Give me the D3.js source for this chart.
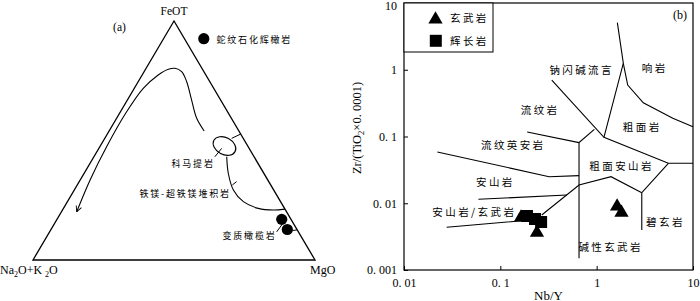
<!DOCTYPE html>
<html><head><meta charset="utf-8">
<script src="https://cdn.jsdelivr.net/npm/d3@7"></script>
<style>
body{margin:0;background:#fff}
svg{display:block}
.lat{font-family:"Liberation Serif","Times New Roman",serif;fill:#000}
.cjk{font-family:"Noto Sans CJK SC","Noto Sans",sans-serif;fill:#000}
</style></head>
<body><script>
const W = 700, H = 301;

// ---------- Panel (a): AFM-type ternary (values as fractions [FeOT, MgO]; Na2O+K2O = 1 - FeOT - MgO)
const ternCorners = [[1, 0], [0, 0], [0, 1]];             // FeOT, Na2O+K2O, MgO apexes
const trendCurve = [[0.540,0.337],[0.593,0.284],[0.669,0.228],[0.746,0.172],[0.788,0.133],
  [0.802,0.1025],[0.798,0.081],[0.774,0.057],[0.718,0.032],[0.620,0.022],[0.474,0.024],
  [0.335,0.035],[0.202,0.054]];
const komatiiteCenter = [0.477, 0.4405];
const komatiiteLink = [[0.509,0.450],[0.527,0.473]];
const komatiiteLeader = [[0.467,0.4355],[0.432,0.429]];
const cumulateCurve = [[0.432,0.471],[0.363,0.511],[0.293,0.564],[0.244,0.624],[0.216,0.691],
  [0.209,0.748],[0.213,0.787]];
const cumulateLeader = [[0.314,0.550],[0.328,0.558]];
const peridotiteLeader = [[0.118,0.805],[0.1485,0.809]];
const peridotiteLink = [[0.1234,0.858],[0.126,0.874]];
const serpentinitePts = [[0.170,0.797],[0.1276,0.838]];   // metamorphic peridotite samples

// ---------- Panel (b): Zr/TiO2 vs Nb/Y (Winchester & Floyd)
const xTickVals = [0.01, 0.1, 1, 10];
const xTickLabels = ["0. 01", "0. 1", "1", "10"];
const yTickVals = [0.001, 0.01, 0.1, 1, 10];
const yTickLabels = ["0. 001", "0. 01", "0. 1", "1", "10"];
const fieldLines = [
  [[1.64,5.07],[1.89,1.25],[1.19,0.097]],
  [[1.89,1.25],[2.10,0.59],[3.05,0.32],[6.17,0.187],[10,0.14]],
  [[0.342,0.70],[1.19,0.097],[5.55,0.0397],[10,0.0397]],
  [[0.946,0.128],[0.656,0.081],[0.656,0.0015]],
  [[5.55,0.0397],[2.94,0.0144],[2.94,0.00397]],
  [[2.94,0.0144],[1.41,0.025],[0.656,0.0188],[0.269,0.00667]],
  [[0.19,0.117],[0.656,0.081]],
  [[0.0222,0.0586],[0.321,0.025],[0.656,0.0259]],
  [[0.0592,0.01146],[0.49,0.0133]],
  [[0.0277,0.00436],[0.203,0.0056],[0.26,0.0059]]
];
const fieldNames = ["钠闪碱流言","响岩","流纹岩","粗面岩","流纹英安岩","粗面安山岩","安山岩","安山岩/玄武岩","碧玄岩","碱性玄武岩"];
const fieldLabelPos = [[0.323,0.99],[2.94,1.05],[0.163,0.249],[1.87,0.137],[0.063,0.0746],[0.84,0.0361],[0.056,0.021],[0.0197,0.0073],[3.26,0.0053],[0.646,0.00221]];
const basaltNbY = [0.164, 0.240, 1.63, 1.81];
const basaltZrTi = [0.00612, 0.00363, 0.00897, 0.00724];
const gabbroNbY = [0.189, 0.229, 0.265];
const gabbroZrTi = [0.00644, 0.00581, 0.00524];

const svg = d3.select("body").append("svg").attr("width", W).attr("height", H);

// ===== Panel (a)
const tu = d3.scaleLinear().domain([0, 1]).range([33, 315]);
const tv = d3.scaleLinear().domain([0, 1]).range([260, 21]);
const tern = d => [tu(d[1] + d[0] / 2), tv(d[0])];
const ga = svg.append("g");
const smooth = d3.line().x(d => tern(d)[0]).y(d => tern(d)[1]).curve(d3.curveCatmullRom.alpha(0.5));
const straight = d3.line().x(d => tern(d)[0]).y(d => tern(d)[1]);

svg.append("defs").append("marker").attr("id","arr").attr("viewBox","0 0 10 10")
  .attr("refX",9).attr("refY",5).attr("markerWidth",7).attr("markerHeight",7)
  .attr("orient","auto").attr("markerUnits","userSpaceOnUse")
  .append("path").attr("d","M1,1 L9,5 L1,9").attr("fill","none").attr("stroke","#000").attr("stroke-width",1.3);

ga.append("path").attr("d", straight(ternCorners) + "Z").attr("fill","none").attr("stroke","#000").attr("stroke-width",1.3);
ga.append("path").attr("d", smooth(trendCurve)).attr("fill","none").attr("stroke","#000").attr("stroke-width",1.1).attr("marker-end","url(#arr)");
const kc = tern(komatiiteCenter);
ga.append("ellipse").attr("cx",kc[0]).attr("cy",kc[1]).attr("rx",12).attr("ry",8.5)
  .attr("transform",`rotate(28,${kc[0]},${kc[1]})`).attr("fill","none").attr("stroke","#000").attr("stroke-width",1.1);
[komatiiteLink, komatiiteLeader, cumulateLeader, peridotiteLeader, peridotiteLink].forEach(s =>
  ga.append("path").attr("d", straight(s)).attr("fill","none").attr("stroke","#000").attr("stroke-width",1));
ga.append("path").attr("d", smooth(cumulateCurve)).attr("fill","none").attr("stroke","#000").attr("stroke-width",1.1);
ga.selectAll("circle.s").data(serpentinitePts).enter().append("circle")
  .attr("cx", d => tern(d)[0]).attr("cy", d => tern(d)[1]).attr("r", 5.6).attr("fill","#000");

// apex labels
ga.append("text").attr("class","lat").attr("x",tu(0.5)).attr("y",15).attr("text-anchor","middle").attr("font-size",11.5).text("FeOT");
ga.append("text").attr("class","lat").attr("x",119.5).attr("y",31).attr("text-anchor","middle").attr("font-size",11.5).text("(a)");
const nk = ga.append("text").attr("class","lat").attr("x",0).attr("y",274).attr("font-size",12);
nk.append("tspan").text("Na");
nk.append("tspan").attr("font-size",8).attr("dy",2.5).text("2");
nk.append("tspan").attr("dy",-2.5).text("O+K ");
nk.append("tspan").attr("font-size",8).attr("dy",2.5).text("2");
nk.append("tspan").attr("dy",-2.5).text("O");
ga.append("text").attr("class","lat").attr("x",310).attr("y",274).attr("font-size",12).text("MgO");
// legend
ga.append("circle").attr("cx",203.8).attr("cy",38.7).attr("r",5.6).attr("fill","#000");
const aLab = [["蛇纹石化辉橄岩",216.5,40],["科马提岩",171.5,163.3],["铁镁-超铁镁堆积岩",139.5,193.3],["变质橄榄岩",222.5,236]];
aLab.forEach(([t,x0,y0]) => ga.append("text").attr("class","cjk").attr("x",x0).attr("y",y0).attr("dy","0.38em")
  .attr("font-size",9).attr("letter-spacing",1.8).text(t));

// ===== Panel (b)
const x = d3.scaleLog().domain([0.01, 10]).range([404, 693]);
const y = d3.scaleLog().domain([0.001, 10]).range([270, 3]);
const gb = svg.append("g");
gb.append("g").attr("class","lat").attr("transform",`translate(0,${y(0.001)})`)
  .call(d3.axisBottom(x).tickValues(xTickVals).tickFormat((d,i)=>xTickLabels[i]).tickSizeInner(-4).tickSizeOuter(0).tickPadding(8))
  .call(g => { g.select(".domain").remove(); g.selectAll("text").attr("font-size",12).attr("font-family","Liberation Serif"); });
gb.append("g").attr("class","lat").attr("transform",`translate(${x(0.01)},0)`)
  .call(d3.axisLeft(y).tickValues(yTickVals).tickFormat((d,i)=>yTickLabels[i]).tickSizeInner(-4).tickSizeOuter(0).tickPadding(7))
  .call(g => { g.select(".domain").remove();
    g.selectAll("text").attr("font-size",12).attr("font-family","Liberation Serif");
    g.selectAll("text").filter(d => d === 10).attr("dy","0.5em"); });
gb.append("rect").attr("x",x(0.01)).attr("y",y(10)).attr("width",x(10)-x(0.01)).attr("height",y(0.001)-y(10))
  .attr("fill","none").attr("stroke","#000").attr("stroke-width",1.2);

const lineB = d3.line().x(d => x(d[0])).y(d => y(d[1]));
gb.selectAll("path.f").data(fieldLines).enter().append("path").attr("class","f")
  .attr("d", lineB).attr("fill","none").attr("stroke","#000").attr("stroke-width",1.1);
gb.selectAll("text.fl").data(fieldNames).enter().append("text").attr("class","cjk fl")
  .attr("x",(d,i)=>x(fieldLabelPos[i][0])).attr("y",(d,i)=>y(fieldLabelPos[i][1])).attr("dy","0.38em")
  .attr("font-size",10.5).attr("letter-spacing",2.4).text(d=>d);

const tri = d3.symbol().type(d3.symbolTriangle).size(88);
const sq = d3.symbol().type(d3.symbolSquare).size(144);
gb.selectAll("path.g").data(gabbroNbY).enter().append("path").attr("d",sq)
  .attr("transform",(d,i)=>`translate(${x(d)},${y(gabbroZrTi[i])})`).attr("fill","#000");
gb.selectAll("path.b").data(basaltNbY).enter().append("path").attr("d",tri)
  .attr("transform",(d,i)=>`translate(${x(d)},${y(basaltZrTi[i])})`).attr("fill","#000");

// legend (b)
gb.append("rect").attr("x",x(0.01)).attr("y",y(10)).attr("width",89).attr("height",49)
  .attr("fill","#fff").attr("stroke","#000").attr("stroke-width",1);
gb.append("path").attr("d",tri).attr("transform","translate(435.5,19.5)").attr("fill","#000");
gb.append("path").attr("d",sq).attr("transform","translate(435.8,40.8)").attr("fill","#000");
gb.append("text").attr("class","cjk").attr("x",450).attr("y",18).attr("dy","0.38em").attr("font-size",10.5).attr("letter-spacing",2.4).text("玄武岩");
gb.append("text").attr("class","cjk").attr("x",450).attr("y",41).attr("dy","0.38em").attr("font-size",10.5).attr("letter-spacing",2.4).text("辉长岩");
gb.append("text").attr("class","lat").attr("x",680).attr("y",19).attr("text-anchor","middle").attr("font-size",12).text("(b)");

// axis titles
gb.append("text").attr("class","lat").attr("x",548.5).attr("y",299.5).attr("text-anchor","middle").attr("font-size",13).text("Nb/Y");
const yt = gb.append("text").attr("class","lat").attr("transform","translate(361,128) rotate(-90)")
  .attr("text-anchor","middle").attr("font-size",12.5);
yt.append("tspan").text("Zr/(TiO");
yt.append("tspan").attr("font-size",8.5).attr("dy",2.5).text("2");
yt.append("tspan").attr("dy",-2.5).text("×0. 0001)");
</script></body></html>
